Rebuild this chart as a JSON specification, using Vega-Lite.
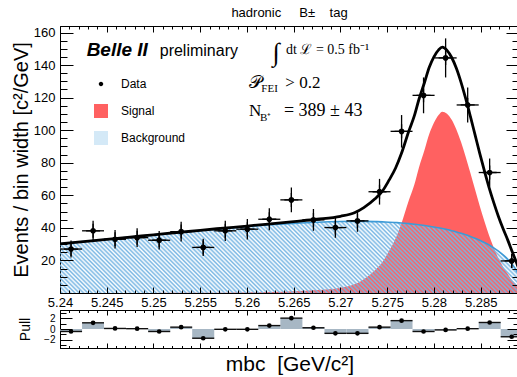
{
  "$schema": "https://vega.github.io/schema/vega-lite/v6.json",
  "padding": {"left": 10, "top": 6, "right": 0, "bottom": 0},
  "background": "white",
  "config": {
    "view": {"stroke": "black", "strokeWidth": 1},
    "font": "Liberation Sans",
    "axis": {"domain": false, "labelColor": "black", "titleColor": "black", "titleFontWeight": "normal", "labelFont": "Liberation Sans", "titleFont": "Liberation Sans", "zindex": 1}
  },
  "title": {"text": "hadronic\u00a0\u00a0\u00a0\u00a0 B±\u00a0\u00a0\u00a0 tag", "fontSize": 13, "fontWeight": "normal", "font": "Liberation Sans", "anchor": "middle", "frame": "group", "offset": 6, "color": "black"},
  "datasets": {
    "curves": [
      {"x": 5.24, "sig": 0, "bkg": 30.2, "tot": 30.2},
      {"x": 5.2425, "sig": 0, "bkg": 31.57, "tot": 31.57},
      {"x": 5.245, "sig": 0, "bkg": 32.94, "tot": 32.94},
      {"x": 5.2475, "sig": 0.05, "bkg": 34.33, "tot": 34.38},
      {"x": 5.25, "sig": 0.05, "bkg": 35.7, "tot": 35.75},
      {"x": 5.2525, "sig": 0.1, "bkg": 37.06, "tot": 37.16},
      {"x": 5.255, "sig": 0.15, "bkg": 38.38, "tot": 38.53},
      {"x": 5.2575, "sig": 0.2, "bkg": 39.64, "tot": 39.84},
      {"x": 5.26, "sig": 0.3, "bkg": 40.82, "tot": 41.12},
      {"x": 5.2625, "sig": 0.6, "bkg": 41.89, "tot": 42.49},
      {"x": 5.265, "sig": 1.1, "bkg": 42.79, "tot": 43.89},
      {"x": 5.2675, "sig": 1.8, "bkg": 43.49, "tot": 45.29},
      {"x": 5.27, "sig": 3.2, "bkg": 43.91, "tot": 47.11},
      {"x": 5.2715, "sig": 5.3, "bkg": 44.0, "tot": 49.3},
      {"x": 5.2725, "sig": 8.5, "bkg": 43.98, "tot": 52.48},
      {"x": 5.2737, "sig": 14, "bkg": 43.85, "tot": 57.85},
      {"x": 5.2745, "sig": 19, "bkg": 43.69, "tot": 62.69},
      {"x": 5.2752, "sig": 25.8, "bkg": 43.5, "tot": 69.3},
      {"x": 5.2759, "sig": 33.5, "bkg": 43.26, "tot": 76.76},
      {"x": 5.2765, "sig": 42.3, "bkg": 43.02, "tot": 85.32},
      {"x": 5.2773, "sig": 56.6, "bkg": 42.61, "tot": 99.21},
      {"x": 5.2779, "sig": 66.5, "bkg": 42.26, "tot": 108.76},
      {"x": 5.2784, "sig": 77.1, "bkg": 41.92, "tot": 119.02},
      {"x": 5.279, "sig": 88, "bkg": 41.46, "tot": 129.46},
      {"x": 5.2795, "sig": 97.6, "bkg": 41.03, "tot": 138.63},
      {"x": 5.28, "sig": 104.5, "bkg": 40.56, "tot": 145.06},
      {"x": 5.2805, "sig": 109.3, "bkg": 40.03, "tot": 149.33},
      {"x": 5.2809, "sig": 111.4, "bkg": 39.57, "tot": 150.97},
      {"x": 5.2814, "sig": 110.1, "bkg": 38.95, "tot": 149.05},
      {"x": 5.2819, "sig": 106.4, "bkg": 38.26, "tot": 144.66},
      {"x": 5.2824, "sig": 100.5, "bkg": 37.5, "tot": 138.0},
      {"x": 5.2829, "sig": 92.7, "bkg": 36.66, "tot": 129.36},
      {"x": 5.2834, "sig": 83.6, "bkg": 35.74, "tot": 119.34},
      {"x": 5.2839, "sig": 73.7, "bkg": 34.73, "tot": 108.43},
      {"x": 5.2844, "sig": 63.5, "bkg": 33.61, "tot": 97.11},
      {"x": 5.2849, "sig": 53.4, "bkg": 32.37, "tot": 85.77},
      {"x": 5.2854, "sig": 44.0, "bkg": 30.99, "tot": 74.99},
      {"x": 5.2859, "sig": 35.3, "bkg": 29.45, "tot": 64.75},
      {"x": 5.2864, "sig": 27.8, "bkg": 27.71, "tot": 55.51},
      {"x": 5.2869, "sig": 21.3, "bkg": 25.74, "tot": 47.04},
      {"x": 5.2874, "sig": 16.0, "bkg": 23.46, "tot": 39.46},
      {"x": 5.2879, "sig": 11.7, "bkg": 20.77, "tot": 32.47},
      {"x": 5.2884, "sig": 7.5, "bkg": 17.46, "tot": 24.96},
      {"x": 5.2889, "sig": 4.5, "bkg": 13.08, "tot": 17.58},
      {"x": 5.2892, "sig": 3.0, "bkg": 9.32, "tot": 12.32},
      {"x": 5.2895, "sig": 0, "bkg": 0, "tot": 0}
    ],
    "bins": [
      {"x": 5.24118, "lo": 5.24, "hi": 5.24236, "y": 27.0, "ylo": 21.8, "yhi": 32.2, "pull": -0.46},
      {"x": 5.24354, "lo": 5.24236, "hi": 5.24471, "y": 38.2, "ylo": 32.0, "yhi": 44.4, "pull": 1.14},
      {"x": 5.24589, "lo": 5.24471, "hi": 5.24707, "y": 33.0, "ylo": 27.3, "yhi": 38.7, "pull": 0.1},
      {"x": 5.24825, "lo": 5.24707, "hi": 5.24943, "y": 34.0, "ylo": 28.2, "yhi": 39.8, "pull": 0.06},
      {"x": 5.25061, "lo": 5.24943, "hi": 5.25179, "y": 32.4, "ylo": 26.7, "yhi": 38.1, "pull": -0.46},
      {"x": 5.25296, "lo": 5.25179, "hi": 5.25414, "y": 37.7, "ylo": 31.6, "yhi": 43.8, "pull": 0.34},
      {"x": 5.25532, "lo": 5.25414, "hi": 5.2565, "y": 28.0, "ylo": 22.7, "yhi": 33.3, "pull": -1.7},
      {"x": 5.25768, "lo": 5.2565, "hi": 5.25886, "y": 38.2, "ylo": 32.0, "yhi": 44.4, "pull": -0.06},
      {"x": 5.26004, "lo": 5.25886, "hi": 5.26121, "y": 39.2, "ylo": 32.9, "yhi": 45.5, "pull": -0.06},
      {"x": 5.26239, "lo": 5.26121, "hi": 5.26357, "y": 45.3, "ylo": 38.6, "yhi": 52.0, "pull": 0.63},
      {"x": 5.26475, "lo": 5.26357, "hi": 5.26593, "y": 57.2, "ylo": 49.6, "yhi": 64.8, "pull": 2.0},
      {"x": 5.26711, "lo": 5.26593, "hi": 5.26829, "y": 44.9, "ylo": 38.2, "yhi": 51.6, "pull": 0.23},
      {"x": 5.26946, "lo": 5.26829, "hi": 5.27064, "y": 40.2, "ylo": 33.9, "yhi": 46.5, "pull": -0.8},
      {"x": 5.27182, "lo": 5.27064, "hi": 5.273, "y": 44.3, "ylo": 37.6, "yhi": 51.0, "pull": -0.8},
      {"x": 5.27418, "lo": 5.273, "hi": 5.27536, "y": 62.2, "ylo": 54.3, "yhi": 70.1, "pull": 0.34},
      {"x": 5.27654, "lo": 5.27536, "hi": 5.27771, "y": 99.3, "ylo": 89.3, "yhi": 109.3, "pull": 1.54},
      {"x": 5.27889, "lo": 5.27771, "hi": 5.28007, "y": 121.4, "ylo": 110.4, "yhi": 132.4, "pull": -0.46},
      {"x": 5.28125, "lo": 5.28007, "hi": 5.28243, "y": 144.4, "ylo": 132.4, "yhi": 156.4, "pull": -0.17},
      {"x": 5.28361, "lo": 5.28243, "hi": 5.28479, "y": 115.5, "ylo": 104.8, "yhi": 126.2, "pull": 0.06},
      {"x": 5.28596, "lo": 5.28479, "hi": 5.28714, "y": 74.0, "ylo": 65.4, "yhi": 82.6, "pull": 1.2},
      {"x": 5.28832, "lo": 5.28714, "hi": 5.2895, "y": 19.7, "ylo": 15.3, "yhi": 24.1, "pull": -1.43}
    ]
  },
  "spacing": -3,
  "vconcat": [
    {
      "width": 459,
      "height": 267,
      "resolve": {"axis": {"x": "independent", "y": "independent"}},
      "layer": [
        {
          "data": {"name": "curves"},
          "mark": {"type": "area", "clip": true, "interpolate": "monotone", "opacity": 1},
          "encoding": {
            "x": {"field": "x", "type": "quantitative", "scale": {"domain": [5.24, 5.2891], "nice": false, "zero": false},
                  "axis": {"orient": "bottom", "values": [5.24, 5.245, 5.25, 5.255, 5.26, 5.265, 5.27, 5.275, 5.28, 5.285], "format": "~g", "ticks": false, "labelFontSize": 13, "labelPadding": 3, "labelFlush": false, "title": null,
                           "grid": true, "gridColor": "#000000", "gridOpacity": 1, "gridWidth": 1, "gridDash": [6, 255, 6, 1000], "zindex": 1}},
            "y": {"field": "sig", "type": "quantitative", "scale": {"domain": [0, 164], "nice": false},
                  "axis": {"orient": "left", "values": [20, 40, 60, 80, 100, 120, 140, 160], "ticks": false, "labelFontSize": 13, "labelPadding": 5,
                           "grid": true, "gridColor": "#000000", "gridOpacity": 1, "gridWidth": 1, "gridDash": [13, 433, 13, 1000],
                           "title": "Events / bin width [c²/GeV]", "titleFontSize": 20, "titlePadding": 2, "zindex": 1}},
            "fill": {"datum": "Signal", "scale": {"domain": ["Signal", "Background"], "range": ["#ff6161", "#d4e9f7"]},
                     "legend": {"title": null, "orient": "none", "legendX": 33, "legendY": 77, "direction": "vertical", "symbolType": "square", "symbolSize": 196, "symbolOpacity": 1, "labelFontSize": 12, "labelFont": "Liberation Sans", "labelColor": "black", "labelOffset": 12, "rowPadding": 12, "padding": 0}}
          }
        },
        {
          "data": {"name": "curves"},
          "mark": {"type": "area", "clip": true, "interpolate": "monotone",
                   "fill": {"gradient": "linear", "x1": 0, "y1": 1, "x2": 1.12778, "y2": 0.82542, "stops": [
{"offset":0,"color":"#78b6e300"},{"offset":0.004,"color":"#78b6e3"},{"offset":0.008,"color":"#78b6e300"},{"offset":0.012,"color":"#78b6e3"},{"offset":0.016,"color":"#78b6e300"},{"offset":0.02,"color":"#78b6e3"},{"offset":0.024,"color":"#78b6e300"},{"offset":0.028,"color":"#78b6e3"},{"offset":0.032,"color":"#78b6e300"},{"offset":0.036,"color":"#78b6e3"},
{"offset":0.04,"color":"#78b6e300"},{"offset":0.044,"color":"#78b6e3"},{"offset":0.048,"color":"#78b6e300"},{"offset":0.052,"color":"#78b6e3"},{"offset":0.056,"color":"#78b6e300"},{"offset":0.06,"color":"#78b6e3"},{"offset":0.064,"color":"#78b6e300"},{"offset":0.068,"color":"#78b6e3"},{"offset":0.072,"color":"#78b6e300"},{"offset":0.076,"color":"#78b6e3"},
{"offset":0.08,"color":"#78b6e300"},{"offset":0.084,"color":"#78b6e3"},{"offset":0.088,"color":"#78b6e300"},{"offset":0.092,"color":"#78b6e3"},{"offset":0.096,"color":"#78b6e300"},{"offset":0.1,"color":"#78b6e3"},{"offset":0.104,"color":"#78b6e300"},{"offset":0.108,"color":"#78b6e3"},{"offset":0.112,"color":"#78b6e300"},{"offset":0.116,"color":"#78b6e3"},
{"offset":0.12,"color":"#78b6e300"},{"offset":0.124,"color":"#78b6e3"},{"offset":0.128,"color":"#78b6e300"},{"offset":0.132,"color":"#78b6e3"},{"offset":0.136,"color":"#78b6e300"},{"offset":0.14,"color":"#78b6e3"},{"offset":0.144,"color":"#78b6e300"},{"offset":0.148,"color":"#78b6e3"},{"offset":0.152,"color":"#78b6e300"},{"offset":0.156,"color":"#78b6e3"},
{"offset":0.16,"color":"#78b6e300"},{"offset":0.164,"color":"#78b6e3"},{"offset":0.168,"color":"#78b6e300"},{"offset":0.172,"color":"#78b6e3"},{"offset":0.176,"color":"#78b6e300"},{"offset":0.18,"color":"#78b6e3"},{"offset":0.184,"color":"#78b6e300"},{"offset":0.188,"color":"#78b6e3"},{"offset":0.192,"color":"#78b6e300"},{"offset":0.196,"color":"#78b6e3"},
{"offset":0.2,"color":"#78b6e300"},{"offset":0.204,"color":"#78b6e3"},{"offset":0.208,"color":"#78b6e300"},{"offset":0.212,"color":"#78b6e3"},{"offset":0.216,"color":"#78b6e300"},{"offset":0.22,"color":"#78b6e3"},{"offset":0.224,"color":"#78b6e300"},{"offset":0.228,"color":"#78b6e3"},{"offset":0.232,"color":"#78b6e300"},{"offset":0.236,"color":"#78b6e3"},
{"offset":0.24,"color":"#78b6e300"},{"offset":0.244,"color":"#78b6e3"},{"offset":0.248,"color":"#78b6e300"},{"offset":0.252,"color":"#78b6e3"},{"offset":0.256,"color":"#78b6e300"},{"offset":0.26,"color":"#78b6e3"},{"offset":0.264,"color":"#78b6e300"},{"offset":0.268,"color":"#78b6e3"},{"offset":0.272,"color":"#78b6e300"},{"offset":0.276,"color":"#78b6e3"},
{"offset":0.28,"color":"#78b6e300"},{"offset":0.284,"color":"#78b6e3"},{"offset":0.288,"color":"#78b6e300"},{"offset":0.292,"color":"#78b6e3"},{"offset":0.296,"color":"#78b6e300"},{"offset":0.3,"color":"#78b6e3"},{"offset":0.304,"color":"#78b6e300"},{"offset":0.308,"color":"#78b6e3"},{"offset":0.312,"color":"#78b6e300"},{"offset":0.316,"color":"#78b6e3"},
{"offset":0.32,"color":"#78b6e300"},{"offset":0.324,"color":"#78b6e3"},{"offset":0.328,"color":"#78b6e300"},{"offset":0.332,"color":"#78b6e3"},{"offset":0.336,"color":"#78b6e300"},{"offset":0.34,"color":"#78b6e3"},{"offset":0.344,"color":"#78b6e300"},{"offset":0.348,"color":"#78b6e3"},{"offset":0.352,"color":"#78b6e300"},{"offset":0.356,"color":"#78b6e3"},
{"offset":0.36,"color":"#78b6e300"},{"offset":0.364,"color":"#78b6e3"},{"offset":0.368,"color":"#78b6e300"},{"offset":0.372,"color":"#78b6e3"},{"offset":0.376,"color":"#78b6e300"},{"offset":0.38,"color":"#78b6e3"},{"offset":0.384,"color":"#78b6e300"},{"offset":0.388,"color":"#78b6e3"},{"offset":0.392,"color":"#78b6e300"},{"offset":0.396,"color":"#78b6e3"},
{"offset":0.4,"color":"#78b6e300"},{"offset":0.404,"color":"#78b6e3"},{"offset":0.408,"color":"#78b6e300"},{"offset":0.412,"color":"#78b6e3"},{"offset":0.416,"color":"#78b6e300"},{"offset":0.42,"color":"#78b6e3"},{"offset":0.424,"color":"#78b6e300"},{"offset":0.428,"color":"#78b6e3"},{"offset":0.432,"color":"#78b6e300"},{"offset":0.436,"color":"#78b6e3"},
{"offset":0.44,"color":"#78b6e300"},{"offset":0.444,"color":"#78b6e3"},{"offset":0.448,"color":"#78b6e300"},{"offset":0.452,"color":"#78b6e3"},{"offset":0.456,"color":"#78b6e300"},{"offset":0.46,"color":"#78b6e3"},{"offset":0.464,"color":"#78b6e300"},{"offset":0.468,"color":"#78b6e3"},{"offset":0.472,"color":"#78b6e300"},{"offset":0.476,"color":"#78b6e3"},
{"offset":0.48,"color":"#78b6e300"},{"offset":0.484,"color":"#78b6e3"},{"offset":0.488,"color":"#78b6e300"},{"offset":0.492,"color":"#78b6e3"},{"offset":0.496,"color":"#78b6e300"},{"offset":0.5,"color":"#78b6e3"},{"offset":0.504,"color":"#78b6e300"},{"offset":0.508,"color":"#78b6e3"},{"offset":0.512,"color":"#78b6e300"},{"offset":0.516,"color":"#78b6e3"},
{"offset":0.52,"color":"#78b6e300"},{"offset":0.524,"color":"#78b6e3"},{"offset":0.528,"color":"#78b6e300"},{"offset":0.532,"color":"#78b6e3"},{"offset":0.536,"color":"#78b6e300"},{"offset":0.54,"color":"#78b6e3"},{"offset":0.544,"color":"#78b6e300"},{"offset":0.548,"color":"#78b6e3"},{"offset":0.552,"color":"#78b6e300"},{"offset":0.556,"color":"#78b6e3"},
{"offset":0.56,"color":"#78b6e300"},{"offset":0.564,"color":"#78b6e3"},{"offset":0.568,"color":"#78b6e300"},{"offset":0.572,"color":"#78b6e3"},{"offset":0.576,"color":"#78b6e300"},{"offset":0.58,"color":"#78b6e3"},{"offset":0.584,"color":"#78b6e300"},{"offset":0.588,"color":"#78b6e3"},{"offset":0.592,"color":"#78b6e300"},{"offset":0.596,"color":"#78b6e3"},
{"offset":0.6,"color":"#78b6e300"},{"offset":0.604,"color":"#78b6e3"},{"offset":0.608,"color":"#78b6e300"},{"offset":0.612,"color":"#78b6e3"},{"offset":0.616,"color":"#78b6e300"},{"offset":0.62,"color":"#78b6e3"},{"offset":0.624,"color":"#78b6e300"},{"offset":0.628,"color":"#78b6e3"},{"offset":0.632,"color":"#78b6e300"},{"offset":0.636,"color":"#78b6e3"},
{"offset":0.64,"color":"#78b6e300"},{"offset":0.644,"color":"#78b6e3"},{"offset":0.648,"color":"#78b6e300"},{"offset":0.652,"color":"#78b6e3"},{"offset":0.656,"color":"#78b6e300"},{"offset":0.66,"color":"#78b6e3"},{"offset":0.664,"color":"#78b6e300"},{"offset":0.668,"color":"#78b6e3"},{"offset":0.672,"color":"#78b6e300"},{"offset":0.676,"color":"#78b6e3"},
{"offset":0.68,"color":"#78b6e300"},{"offset":0.684,"color":"#78b6e3"},{"offset":0.688,"color":"#78b6e300"},{"offset":0.692,"color":"#78b6e3"},{"offset":0.696,"color":"#78b6e300"},{"offset":0.7,"color":"#78b6e3"},{"offset":0.704,"color":"#78b6e300"},{"offset":0.708,"color":"#78b6e3"},{"offset":0.712,"color":"#78b6e300"},{"offset":0.716,"color":"#78b6e3"},
{"offset":0.72,"color":"#78b6e300"},{"offset":0.724,"color":"#78b6e3"},{"offset":0.728,"color":"#78b6e300"},{"offset":0.732,"color":"#78b6e3"},{"offset":0.736,"color":"#78b6e300"},{"offset":0.74,"color":"#78b6e3"},{"offset":0.744,"color":"#78b6e300"},{"offset":0.748,"color":"#78b6e3"},{"offset":0.752,"color":"#78b6e300"},{"offset":0.756,"color":"#78b6e3"},
{"offset":0.76,"color":"#78b6e300"},{"offset":0.764,"color":"#78b6e3"},{"offset":0.768,"color":"#78b6e300"},{"offset":0.772,"color":"#78b6e3"},{"offset":0.776,"color":"#78b6e300"},{"offset":0.78,"color":"#78b6e3"},{"offset":0.784,"color":"#78b6e300"},{"offset":0.788,"color":"#78b6e3"},{"offset":0.792,"color":"#78b6e300"},{"offset":0.796,"color":"#78b6e3"},
{"offset":0.8,"color":"#78b6e300"},{"offset":0.804,"color":"#78b6e3"},{"offset":0.808,"color":"#78b6e300"},{"offset":0.812,"color":"#78b6e3"},{"offset":0.816,"color":"#78b6e300"},{"offset":0.82,"color":"#78b6e3"},{"offset":0.824,"color":"#78b6e300"},{"offset":0.828,"color":"#78b6e3"},{"offset":0.832,"color":"#78b6e300"},{"offset":0.836,"color":"#78b6e3"},
{"offset":0.84,"color":"#78b6e300"},{"offset":0.844,"color":"#78b6e3"},{"offset":0.848,"color":"#78b6e300"},{"offset":0.852,"color":"#78b6e3"},{"offset":0.856,"color":"#78b6e300"},{"offset":0.86,"color":"#78b6e3"},{"offset":0.864,"color":"#78b6e300"},{"offset":0.868,"color":"#78b6e3"},{"offset":0.872,"color":"#78b6e300"},{"offset":0.876,"color":"#78b6e3"},
{"offset":0.88,"color":"#78b6e300"},{"offset":0.884,"color":"#78b6e3"},{"offset":0.888,"color":"#78b6e300"},{"offset":0.892,"color":"#78b6e3"},{"offset":0.896,"color":"#78b6e300"},{"offset":0.9,"color":"#78b6e3"},{"offset":0.904,"color":"#78b6e300"},{"offset":0.908,"color":"#78b6e3"},{"offset":0.912,"color":"#78b6e300"},{"offset":0.916,"color":"#78b6e3"},
{"offset":0.92,"color":"#78b6e300"},{"offset":0.924,"color":"#78b6e3"},{"offset":0.928,"color":"#78b6e300"},{"offset":0.932,"color":"#78b6e3"},{"offset":0.936,"color":"#78b6e300"},{"offset":0.94,"color":"#78b6e3"},{"offset":0.944,"color":"#78b6e300"},{"offset":0.948,"color":"#78b6e3"},{"offset":0.952,"color":"#78b6e300"},{"offset":0.956,"color":"#78b6e3"},
{"offset":0.96,"color":"#78b6e300"},{"offset":0.964,"color":"#78b6e3"},{"offset":0.968,"color":"#78b6e300"},{"offset":0.972,"color":"#78b6e3"},{"offset":0.976,"color":"#78b6e300"},{"offset":0.98,"color":"#78b6e3"},{"offset":0.984,"color":"#78b6e300"},{"offset":0.988,"color":"#78b6e3"},{"offset":0.992,"color":"#78b6e300"},{"offset":0.996,"color":"#78b6e3"},
{"offset":1,"color":"#78b6e300"}
                   ]}},
          "encoding": {
            "x": {"field": "x", "type": "quantitative",
                  "axis": {"orient": "bottom", "values": [5.24, 5.241, 5.242, 5.243, 5.244, 5.245, 5.246, 5.247, 5.248, 5.249, 5.25, 5.251, 5.252, 5.253, 5.254, 5.255, 5.256, 5.257, 5.258, 5.259, 5.26, 5.261, 5.262, 5.263, 5.264, 5.265, 5.266, 5.267, 5.268, 5.269, 5.27, 5.271, 5.272, 5.273, 5.274, 5.275, 5.276, 5.277, 5.278, 5.279, 5.28, 5.281, 5.282, 5.283, 5.284, 5.285, 5.286, 5.287, 5.288, 5.289], "labels": false, "ticks": false, "title": null,
                           "grid": true, "gridColor": "#000000", "gridOpacity": 1, "gridWidth": 1, "gridDash": [3, 261, 3, 1000], "zindex": 1}},
            "y": {"field": "bkg", "type": "quantitative",
                  "axis": {"orient": "left", "values": [0, 5, 10, 15, 20, 25, 30, 35, 40, 45, 50, 55, 60, 65, 70, 75, 80, 85, 90, 95, 100, 105, 110, 115, 120, 125, 130, 135, 140, 145, 150, 155, 160], "labels": false, "ticks": false, "title": null,
                           "grid": true, "gridColor": "#000000", "gridOpacity": 1, "gridWidth": 1, "gridDash": [7, 445, 7, 1000], "zindex": 1}}
          }
        },
        {
          "data": {"name": "curves"},
          "mark": {"type": "line", "clip": true, "interpolate": "monotone", "color": "#3d9ad6", "strokeWidth": 1.6},
          "encoding": {
            "x": {"field": "x", "type": "quantitative", "axis": null},
            "y": {"field": "bkg", "type": "quantitative", "axis": null}
          }
        },
        {
          "data": {"name": "curves"},
          "mark": {"type": "line", "clip": true, "interpolate": "monotone", "color": "#000000", "strokeWidth": 2.8},
          "encoding": {
            "x": {"field": "x", "type": "quantitative", "axis": null},
            "y": {"field": "tot", "type": "quantitative", "axis": null}
          }
        },
        {
          "data": {"name": "bins"},
          "mark": {"type": "rule", "clip": true, "color": "#000000", "strokeWidth": 1.3},
          "encoding": {
            "x": {"field": "lo", "type": "quantitative", "axis": null},
            "x2": {"field": "hi"},
            "y": {"field": "y", "type": "quantitative", "axis": null}
          }
        },
        {
          "data": {"name": "bins"},
          "mark": {"type": "rule", "clip": true, "color": "#000000", "strokeWidth": 1.3},
          "encoding": {
            "x": {"field": "x", "type": "quantitative", "axis": null},
            "y": {"field": "ylo", "type": "quantitative", "axis": null},
            "y2": {"field": "yhi"}
          }
        },
        {
          "data": {"name": "bins"},
          "mark": {"type": "point", "filled": true, "size": 196, "opacity": 1, "color": "#000000", "stroke": "#000000", "strokeWidth": 1.3, "clip": true},
          "encoding": {
            "x": {"field": "x", "type": "quantitative", "axis": null},
            "y": {"field": "y", "type": "quantitative", "axis": null},
            "shape": {"datum": "Data", "scale": {"domain": ["Data"], "range": ["M-1,0H1M0,-1V1M-0.32,0A0.32,0.32,0,1,0,0.32,0A0.32,0.32,0,1,0,-0.32,0Z"]},
                      "legend": {"title": null, "orient": "none", "legendX": 33, "legendY": 50, "symbolSize": 196, "symbolOpacity": 1, "symbolStrokeColor": "#000000", "symbolFillColor": "#000000", "symbolStrokeWidth": 1.3, "labelFontSize": 12, "labelFont": "Liberation Sans", "labelColor": "black", "labelOffset": 12, "padding": 0}}
          }
        },
        {
          "data": {"values": [{}]},
          "mark": {"type": "text", "text": "Belle II", "align": "left", "baseline": "alphabetic", "font": "Liberation Sans", "fontSize": 19, "fontStyle": "italic", "fontWeight": "bold", "color": "#000000"},
          "encoding": {"x": {"datum": 5.24285, "type": "quantitative", "axis": null}, "y": {"datum": 145.8, "type": "quantitative", "axis": null}}
        },
        {
          "data": {"values": [{}]},
          "mark": {"type": "text", "text": "preliminary", "align": "left", "baseline": "alphabetic", "font": "Liberation Sans", "fontSize": 16, "color": "#000000"},
          "encoding": {"x": {"datum": 5.25067, "type": "quantitative", "axis": null}, "y": {"datum": 145.8, "type": "quantitative", "axis": null}}
        },
        {
          "data": {"values": [{}]},
          "mark": {"type": "text", "text": "∫", "align": "left", "baseline": "alphabetic", "font": "Liberation Serif", "fontSize": 26, "color": "#000000"},
          "encoding": {"x": {"datum": 5.26275, "type": "quantitative", "axis": null}, "y": {"datum": 142.5, "type": "quantitative", "axis": null}}
        },
        {
          "data": {"values": [{}]},
          "mark": {"type": "text", "text": "dt ℒ = 0.5 fb⁻¹", "align": "left", "baseline": "alphabetic", "font": "Liberation Serif", "fontSize": 14, "color": "#000000"},
          "encoding": {"x": {"datum": 5.26418, "type": "quantitative", "axis": null}, "y": {"datum": 147.1, "type": "quantitative", "axis": null}}
        },
        {
          "data": {"values": [{}]},
          "mark": {"type": "text", "text": "𝒫", "align": "left", "baseline": "alphabetic", "font": "Liberation Serif", "fontSize": 18, "color": "#000000"},
          "encoding": {"x": {"datum": 5.26021, "type": "quantitative", "axis": null}, "y": {"datum": 126.2, "type": "quantitative", "axis": null}}
        },
        {
          "data": {"values": [{}]},
          "mark": {"type": "text", "text": "FEI", "align": "left", "baseline": "alphabetic", "font": "Liberation Serif", "fontSize": 11, "color": "#000000"},
          "encoding": {"x": {"datum": 5.26154, "type": "quantitative", "axis": null}, "y": {"datum": 123.7, "type": "quantitative", "axis": null}}
        },
        {
          "data": {"values": [{}]},
          "mark": {"type": "text", "text": "> 0.2", "align": "left", "baseline": "alphabetic", "font": "Liberation Serif", "fontSize": 17, "color": "#000000"},
          "encoding": {"x": {"datum": 5.2641, "type": "quantitative", "axis": null}, "y": {"datum": 126.2, "type": "quantitative", "axis": null}}
        },
        {
          "data": {"values": [{}]},
          "mark": {"type": "text", "text": "N", "align": "left", "baseline": "alphabetic", "font": "Liberation Serif", "fontSize": 17, "color": "#000000"},
          "encoding": {"x": {"datum": 5.26021, "type": "quantitative", "axis": null}, "y": {"datum": 108.9, "type": "quantitative", "axis": null}}
        },
        {
          "data": {"values": [{}]},
          "mark": {"type": "text", "text": "B⁺", "align": "left", "baseline": "alphabetic", "font": "Liberation Serif", "fontSize": 11, "color": "#000000"},
          "encoding": {"x": {"datum": 5.26139, "type": "quantitative", "axis": null}, "y": {"datum": 105.8, "type": "quantitative", "axis": null}}
        },
        {
          "data": {"values": [{}]},
          "mark": {"type": "text", "text": "= 389 ± 43", "align": "left", "baseline": "alphabetic", "font": "Liberation Serif", "fontSize": 18, "color": "#000000"},
          "encoding": {"x": {"datum": 5.26395, "type": "quantitative", "axis": null}, "y": {"datum": 108.9, "type": "quantitative", "axis": null}}
        }
      ]
    },
    {
      "width": 459,
      "height": 38,
      "resolve": {"axis": {"x": "independent", "y": "independent"}},
      "layer": [
        {
          "data": {"name": "bins"},
          "mark": {"type": "rect", "clip": true, "color": "#a7b7c4"},
          "encoding": {
            "x": {"field": "lo", "type": "quantitative", "scale": {"domain": [5.24, 5.2891], "nice": false, "zero": false},
                  "axis": {"orient": "bottom", "values": [5.24, 5.245, 5.25, 5.255, 5.26, 5.265, 5.27, 5.275, 5.28, 5.285], "labels": false, "ticks": false,
                           "grid": true, "gridColor": "#000000", "gridOpacity": 1, "gridWidth": 1, "gridDash": [5, 28, 5, 1000], "zindex": 1,
                           "title": "mbc\u00a0 [GeV/c²]", "titleFontSize": 21, "titlePadding": 5}},
            "x2": {"field": "hi"},
            "y": {"field": "pull", "type": "quantitative", "scale": {"domain": [-3.5, 3.5], "nice": false, "zero": false},
                  "axis": {"orient": "left", "values": [-2, 0, 2], "ticks": false, "labelFontSize": 10, "labelPadding": 5,
                           "grid": true, "gridColor": "#000000", "gridOpacity": 1, "gridWidth": 1, "gridDash": [12, 435, 12, 1000], "zindex": 1,
                           "title": "Pull", "titleFontSize": 14, "titlePadding": 11}},
            "y2": {"datum": 0}
          }
        },
        {
          "data": {"name": "bins"},
          "mark": {"type": "rule", "clip": true, "color": "#111111", "strokeWidth": 1.4},
          "encoding": {
            "x": {"field": "lo", "type": "quantitative",
                  "axis": {"orient": "bottom", "values": [5.24, 5.241, 5.242, 5.243, 5.244, 5.245, 5.246, 5.247, 5.248, 5.249, 5.25, 5.251, 5.252, 5.253, 5.254, 5.255, 5.256, 5.257, 5.258, 5.259, 5.26, 5.261, 5.262, 5.263, 5.264, 5.265, 5.266, 5.267, 5.268, 5.269, 5.27, 5.271, 5.272, 5.273, 5.274, 5.275, 5.276, 5.277, 5.278, 5.279, 5.28, 5.281, 5.282, 5.283, 5.284, 5.285, 5.286, 5.287, 5.288, 5.289], "labels": false, "ticks": false, "title": null,
                           "grid": true, "gridColor": "#000000", "gridOpacity": 1, "gridWidth": 1, "gridDash": [2.5, 33, 2.5, 1000], "zindex": 1}},
            "x2": {"field": "hi"},
            "y": {"field": "pull", "type": "quantitative",
                  "axis": {"orient": "left", "values": [-3, -1, 1, 3], "labels": false, "ticks": false, "title": null,
                           "grid": true, "gridColor": "#000000", "gridOpacity": 1, "gridWidth": 1, "gridDash": [6, 447, 6, 1000], "zindex": 1}}
          }
        },
        {
          "data": {"name": "bins"},
          "mark": {"type": "point", "filled": true, "size": 22, "opacity": 1, "shape": "circle", "color": "#000000", "clip": true},
          "encoding": {
            "x": {"field": "x", "type": "quantitative", "axis": null},
            "y": {"field": "pull", "type": "quantitative", "axis": null}
          }
        }
      ]
    }
  ]
}
